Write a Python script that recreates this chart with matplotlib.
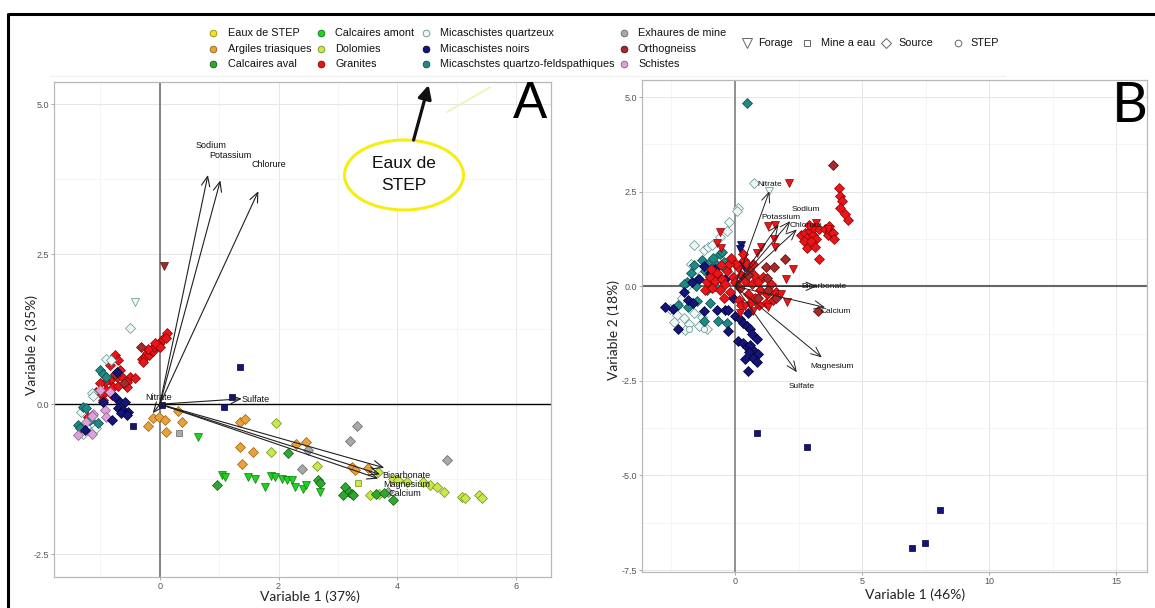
import matplotlib
matplotlib.use('Agg')
import matplotlib.pyplot as plt
from matplotlib.patches import Ellipse
from matplotlib.ticker import MultipleLocator

plt.rcParams['font.family'] = ['Liberation Sans', 'DejaVu Sans']

W, H = 1155, 608

# ---------------- legend / groups ----------------
group_names = ['Eaux de STEP', 'Argiles triasiques', 'Calcaires aval',
               'Calcaires amont', 'Dolomies', 'Granites',
               'Micaschistes quartzeux', 'Micaschistes noirs', 'Micaschstes quartzo-feldspathiques',
               'Exhaures de mine', 'Orthogneiss', 'Schistes']
group_fill = ['#f2e32a', '#e9a23b', '#2fa82f',
              '#1fd41f', '#c8e84c', '#e8161b',
              '#eef8f6', '#14147a', '#1f8a85',
              '#a8a8a8', '#a52a2a', '#dba3d9']
group_edge = ['#9a8a00', '#9a6010', '#145a14',
              '#0a7a0a', '#6f8f18', '#8a0000',
              '#5f8f8c', '#000030', '#0a4a48',
              '#666666', '#5a0a0a', '#8a5a8a']
shape_names = ['Forage', 'Mine a eau', 'Source', 'STEP']
shape_markers = ['v', 's', 'D', 'o']

# ---------------- Panel A data ----------------
a_granites_src_x = [-0.30, -0.25, -0.22, -0.18, -0.15, -0.12, -0.10, -0.05, -0.02, 0.02, 0.05, 0.08, 0.12,
                    -0.28, -0.20, 0.00, -0.08, 0.10,
                    -0.76, -0.70, -0.84, -0.67, -0.73, -0.62, -0.51, -0.42, -0.56, -0.84, -0.93, -1.01,
                    -0.79, -0.70, -0.90, -1.07, -0.98, -0.81, -0.96, -0.56, -1.21]
a_granites_src_y = [0.75, 0.78, 0.85, 0.82, 0.90, 0.88, 0.95, 0.98, 1.00, 1.05, 1.08, 1.12, 1.18,
                    0.70, 0.92, 0.95, 1.02, 1.10,
                    0.82, 0.73, 0.65, 0.57, 0.46, 0.43, 0.46, 0.44, 0.37, 0.40, 0.37, 0.35,
                    0.29, 0.30, 0.23, 0.21, 0.15, 0.15, 0.07, 0.29, -0.21]
a_ortho_src_x = [-0.32, -0.60, -0.75]
a_ortho_src_y = [0.95, 0.35, 0.50]
a_ortho_for_x = [0.07]
a_ortho_for_y = [2.30]
a_micaq_src_x = [-0.51, -0.90, -0.82, -1.15, -1.12, -1.32, -1.24, -1.15, -1.07, -1.29]
a_micaq_src_y = [1.27, 0.75, 0.73, 0.18, 0.13, -0.13, -0.38, -0.46, -0.40, -0.49]
a_micaq_for_x = [-0.42]
a_micaq_for_y = [1.70]
a_micaqf_src_x = [-1.01, -0.96, -1.29, -1.24, -1.38, -1.04, -1.18, -1.35, -0.90]
a_micaqf_src_y = [0.57, 0.51, -0.04, -0.07, -0.35, -0.32, -0.27, -0.40, 0.45]
a_schistes_src_x = [-0.93, -0.90, -1.12, -1.15, -1.38, -1.15, -0.84, -1.01, -1.25]
a_schistes_src_y = [-0.10, -0.21, -0.16, -0.20, -0.52, -0.49, 0.21, 0.23, -0.30]
a_mican_src_x = [-0.73, -0.67, -0.59, -0.70, -0.62, -0.53, -0.65, -0.56, -0.81, -0.76, -0.96, -1.26]
a_mican_src_y = [0.53, 0.04, 0.04, -0.07, -0.10, -0.13, -0.15, -0.18, -0.27, 0.12, 0.04, -0.43]
a_mican_mine_x = [-0.45, 1.35, 1.21, 1.08, 0.03]
a_mican_mine_y = [-0.37, 0.62, 0.12, -0.05, -0.02]
a_argiles_src_x = [-0.20, -0.11, -0.02, 0.08, 0.10, 0.30, 0.37, 1.35, 1.43, 1.35, 1.57, 1.38,
                   2.30, 2.47, 3.23, 3.29, 3.51]
a_argiles_src_y = [-0.36, -0.23, -0.22, -0.27, -0.46, -0.12, -0.30, -0.29, -0.24, -0.71, -0.79, -0.99,
                   -0.66, -0.63, -1.04, -1.10, -1.07]
a_exh_mine_x = [0.32]
a_exh_mine_y = [-0.48]
a_exh_src_x = [3.32, 3.20, 2.50, 2.39, 4.83, 3.85]
a_exh_src_y = [-0.37, -0.61, -0.76, -1.08, -0.93, -1.46]
a_dolo_src_x = [1.96, 1.88, 2.64, 3.68, 3.93, 4.02, 4.16, 4.44, 4.55, 4.67, 4.78, 5.09, 5.14, 5.37, 5.42,
                3.54, 3.70]
a_dolo_src_y = [-0.31, -0.79, -1.03, -1.13, -1.24, -1.27, -1.29, -1.29, -1.35, -1.38, -1.46, -1.54, -1.57,
                -1.52, -1.57, -1.52, -1.50]
a_dolo_mine_x = [3.34]
a_dolo_mine_y = [-1.32]
a_camont_for_x = [0.65, 1.04, 1.10, 1.49, 1.60, 1.77, 1.88, 1.94, 2.05, 2.14, 2.22, 2.28, 2.42, 2.47, 2.70]
a_camont_for_y = [-0.54, -1.18, -1.21, -1.21, -1.24, -1.38, -1.20, -1.22, -1.24, -1.27, -1.26, -1.38,
                  -1.41, -1.35, -1.46]
a_caval_src_x = [0.96, 2.16, 2.67, 2.70, 3.12, 3.18, 3.23, 3.26, 3.09, 3.65, 3.77, 3.93]
a_caval_src_y = [-1.34, -0.82, -1.27, -1.32, -1.38, -1.46, -1.49, -1.52, -1.52, -1.49, -1.48, -1.60]

a_var_names = ['Sodium', 'Potassium', 'Chlorure', 'Nitrate', 'Sulfate', 'Bicarbonate', 'Magnesium', 'Calcium']
a_var_x = [0.81, 1.02, 1.66, -0.12, 1.38, 3.78, 3.71, 3.68]
a_var_y = [3.82, 3.73, 3.55, -0.15, 0.09, -1.06, -1.17, -1.24]
a_lab_x = [0.86, 1.18, 1.84, -0.02, 1.62, 4.16, 4.16, 4.13]
a_lab_y = [4.31, 4.15, 4.00, 0.12, 0.08, -1.18, -1.34, -1.49]

# ---------------- Panel B data ----------------
b_granites_src_x = [4.09, 4.13, 4.20, 4.13, 4.33, 4.46,
                    2.60, 2.75, 2.85, 2.95, 3.05, 3.10, 3.20, 3.30, 2.70, 3.00, 3.55, 3.65, 3.75, 3.85,
                    3.70, 3.90, 2.82, 3.32, 2.90, 3.15,
                    -1.20, -1.10, -1.00, -0.90, -0.80, -0.70, -0.60, -0.50, -0.40, -0.30, -0.20, -0.10,
                    0.00, 0.10, 0.20, 0.25, 0.35, 0.40, 0.50, 0.55, 0.65, 0.75, 0.80, 0.90, 1.00, 1.10,
                    1.25, 1.40, 1.50, 1.60, -0.45, 0.15, 0.60, -0.95, 0.30, 0.05, -0.25, 0.45, 1.20,
                    0.95, -0.55, 0.70, -0.15, 0.25]
b_granites_src_y = [2.60, 2.38, 2.25, 2.07, 1.90, 1.74,
                    1.35, 1.40, 1.30, 1.45, 1.35, 1.55, 1.25, 1.50, 1.20, 1.20, 1.50, 1.35, 1.45, 1.40,
                    1.60, 1.25, 1.00, 0.73, 1.62, 1.05,
                    -0.10, 0.10, 0.25, -0.05, 0.15, 0.35, -0.10, 0.20, 0.05, 0.40, -0.15, 0.25,
                    0.10, 0.50, -0.05, 0.30, 0.70, 0.15, -0.20, 0.45, 0.05, 0.30, -0.30, 0.10, -0.10, 0.25,
                    -0.20, 0.05, -0.35, -0.15, -0.30, -0.35, -0.45, 0.45, 0.85, 0.60, 0.60, 0.60, -0.45,
                    -0.50, 0.55, 0.60, 0.75, -0.50]
b_granites_for_x = [2.14, -0.61, -0.71, -0.55, 1.28, 1.58, 1.52, 1.01, 1.58, 0.88, 2.27, 2.00, 3.67, 3.19,
                    2.03, 0.40, 1.80, 1.30, 0.70, 0.20]
b_granites_for_y = [2.74, 1.43, 1.15, 1.01, 1.59, 1.63, 1.24, 1.04, 1.04, 0.88, 0.45, 0.20, 1.50, 1.67,
                    -0.41, -0.52, -0.20, -0.55, -0.65, -0.70]
b_ortho_src_x = [3.87, 1.97, 1.22, 1.54, 1.25, 3.28, 1.30, 1.60, 0.90, 0.50]
b_ortho_src_y = [3.21, 0.73, 0.52, 0.50, 0.23, -0.65, -0.10, -0.30, -0.30, 0.30]
b_mican_src_x = [-2.76, -2.43, -2.23, -1.84, -1.64, -1.24, -0.72, -0.39, -0.26, -0.26, 0.00, 0.20, 0.33,
                 0.46, 0.59, 0.66, 0.85, 0.13, 0.30, 0.45, 0.60, 0.75, 0.55, 0.90, 0.70, 0.85, 0.39, 0.52,
                 -1.24, -1.00, -0.80, -0.55, -1.40, -0.39, -1.70, 0.20, -0.10, 0.50, -2.00]
b_mican_src_y = [-0.54, -0.59, -1.12, -0.36, -0.43, -0.65, -0.62, -0.62, -0.62, -1.17, -0.78, -0.87, -0.96,
                 -1.04, -1.13, -1.26, -1.39, -1.44, -1.50, -1.60, -1.55, -1.70, -1.75, -1.80, -1.90, -2.00,
                 -1.92, -2.23, 0.53, 0.35, 0.45, 0.20, 0.20, 0.18, 0.10, 0.55, -0.30, -0.70, -0.15]
b_mican_for_x = [0.22, 0.20, 0.35]
b_mican_for_y = [1.10, 0.99, 0.50]
b_mican_mine_x = [0.85, 2.83, 8.05, 7.46, 6.94]
b_mican_mine_y = [-3.88, -4.24, -5.91, -6.79, -6.92]
b_micaqf_src_x = [0.47, -1.90, -1.75, -1.60, -1.45, -1.30, -1.20, -1.05, -0.95, -0.85, -0.70, -0.60, -0.45,
                  -0.35, -1.55, -1.10, -0.80, -2.23, -1.84, -1.24, -0.66, -0.33, -2.00, -1.50, -0.50, -1.00]
b_micaqf_src_y = [4.84, 0.10, 0.35, 0.55, 0.20, 0.70, 0.40, 0.60, 0.15, 0.75, 0.55, 0.85, 0.65,
                  0.45, 0.00, -0.10, 0.00, -0.50, -0.56, -0.91, -0.91, -0.97, 0.05, -0.40, 0.90, -0.45]
b_micaq_src_x = [0.75, 0.13, 0.07, -0.22, -0.33, -1.60, -1.24, -1.05, -0.92, -1.75, -1.50, -1.90, -2.10,
                 -2.56, -2.30, -2.00, -1.80, -1.60, -1.40, -1.12, -1.95, -1.70, -2.40, -1.30, -0.60]
b_micaq_src_y = [2.73, 2.07, 2.00, 1.70, 1.46, 1.10, 0.97, 1.04, 1.10, 0.60, 0.45, 0.00, -0.30,
                 -0.60, -0.75, -0.85, -1.00, -0.70, -1.05, -1.13, -1.15, -0.45, -0.95, -0.80, 1.30]
b_micaq_for_x = [1.35]
b_micaq_for_y = [2.51]
b_micaq_step_x = [-1.83, -1.24]
b_micaq_step_y = [-1.13, -1.13]

b_var_names = ['Nitrate', 'Potassium', 'Sodium', 'Chlorure', 'Bicarbonate', 'Calcium', 'Magnesium', 'Sulfate']
b_var_x = [1.35, 1.71, 2.17, 2.43, 3.22, 3.54, 3.41, 2.43]
b_var_y = [2.51, 1.63, 1.72, 1.50, 0.00, -0.56, -1.88, -2.27]
b_lab_x = [1.38, 1.80, 2.78, 2.78, 3.48, 3.98, 3.81, 2.63]
b_lab_y = [2.68, 1.83, 2.04, 1.60, 0.00, -0.67, -2.12, -2.64]

# ---------------- series tables ----------------
series_a = [
    (a_granites_src_x, a_granites_src_y, 5, 'D'),
    (a_ortho_src_x, a_ortho_src_y, 10, 'D'),
    (a_ortho_for_x, a_ortho_for_y, 10, 'v'),
    (a_micaq_src_x, a_micaq_src_y, 6, 'D'),
    (a_micaq_for_x, a_micaq_for_y, 6, 'v'),
    (a_micaqf_src_x, a_micaqf_src_y, 8, 'D'),
    (a_schistes_src_x, a_schistes_src_y, 11, 'D'),
    (a_mican_src_x, a_mican_src_y, 7, 'D'),
    (a_mican_mine_x, a_mican_mine_y, 7, 's'),
    (a_argiles_src_x, a_argiles_src_y, 1, 'D'),
    (a_exh_mine_x, a_exh_mine_y, 9, 's'),
    (a_exh_src_x, a_exh_src_y, 9, 'D'),
    (a_dolo_src_x, a_dolo_src_y, 4, 'D'),
    (a_dolo_mine_x, a_dolo_mine_y, 4, 's'),
    (a_camont_for_x, a_camont_for_y, 3, 'v'),
    (a_caval_src_x, a_caval_src_y, 2, 'D'),
]
series_b = [
    (b_micaq_src_x, b_micaq_src_y, 6, 'D'),
    (b_micaq_for_x, b_micaq_for_y, 6, 'v'),
    (b_micaq_step_x, b_micaq_step_y, 6, 'o'),
    (b_micaqf_src_x, b_micaqf_src_y, 8, 'D'),
    (b_mican_src_x, b_mican_src_y, 7, 'D'),
    (b_mican_for_x, b_mican_for_y, 7, 'v'),
    (b_mican_mine_x, b_mican_mine_y, 7, 's'),
    (b_granites_src_x, b_granites_src_y, 5, 'D'),
    (b_granites_for_x, b_granites_for_y, 5, 'v'),
    (b_ortho_src_x, b_ortho_src_y, 10, 'D'),
]
marker_size = {'D': 4.8, 'v': 6.2, 's': 4.3, 'o': 4.5}

fig = plt.figure(figsize=(W / 100, H / 100), dpi=100)


def px_axes(l, t, r, b):
    return fig.add_axes([l / W, 1 - b / H, (r - l) / W, (b - t) / H])


def style_axes(ax, xmaj, xmin_, ymaj, ymin_):
    ax.xaxis.set_major_locator(MultipleLocator(xmaj))
    ax.xaxis.set_minor_locator(MultipleLocator(xmin_))
    ax.yaxis.set_major_locator(MultipleLocator(ymaj))
    ax.yaxis.set_minor_locator(MultipleLocator(ymin_))
    ax.grid(which='major', color='#e6e6e6', lw=0.7, zorder=0)
    ax.grid(which='minor', color='#f2f2f2', lw=0.5, zorder=0)
    ax.set_axisbelow(True)
    for s in ax.spines.values():
        s.set_color('#b8b8b8')
        s.set_linewidth(0.9)
    ax.tick_params(which='major', length=2, width=0.6, color='#999999', labelsize=6.5,
                   labelcolor='#555555', pad=1.5)
    ax.tick_params(which='minor', length=0)


def draw_points(ax, series):
    for xs, ys, gi, mk in series:
        ax.plot(xs, ys, linestyle='none', marker=mk, ms=marker_size[mk],
                mfc=group_fill[gi], mec=group_edge[gi], mew=0.5, zorder=3)


# ---------------- Panel A ----------------
axA = px_axes(53.6, 82, 551, 577)
axA.set_xlim(-1.79, 6.59)
axA.set_ylim(-2.88, 5.37)
style_axes(axA, 2, 1, 2.5, 1.25)
axA.set_yticks([-2.5, 0.0, 2.5, 5.0])
axA.set_yticklabels(['-2.5', '0.0', '2.5', '5.0'])
axA.axvline(0, color='#7a7a7a', lw=1.3, zorder=1)
axA.axhline(0, color='black', lw=1.0, zorder=1)
draw_points(axA, series_a)
for n, vx, vy, lx, ly in zip(a_var_names, a_var_x, a_var_y, a_lab_x, a_lab_y):
    axA.annotate('', xy=(vx, vy), xytext=(0, 0),
                 arrowprops=dict(arrowstyle='->,head_length=0.7,head_width=0.3', lw=0.8,
                                 color='#202020', shrinkA=0, shrinkB=0), zorder=4)
    axA.text(lx, ly, n, fontsize=6.5, ha='center', va='center', color='#111111', zorder=5)
axA.plot([4.84, 5.56], [4.87, 5.28], color='#eef2b0', lw=1.2, zorder=2)

# ---------------- Panel B ----------------
axB = px_axes(642, 80, 1147, 572)
axB.set_xlim(-3.66, 16.2)
axB.set_ylim(-7.55, 5.45)
style_axes(axB, 5, 2.5, 2.5, 1.25)
axB.set_yticks([-7.5, -5.0, -2.5, 0.0, 2.5, 5.0])
axB.set_yticklabels(['-7.5', '-5.0', '-2.5', '0.0', '2.5', '5.0'])
axB.axvline(0, color='#8a8a8a', lw=1.3, zorder=1)
axB.axhline(0, color='#666666', lw=1.5, zorder=1)
draw_points(axB, series_b)
for n, vx, vy, lx, ly in zip(b_var_names, b_var_x, b_var_y, b_lab_x, b_lab_y):
    axB.annotate('', xy=(vx, vy), xytext=(0, 0),
                 arrowprops=dict(arrowstyle='->,head_length=0.7,head_width=0.3', lw=0.7,
                                 color='#202020', shrinkA=0, shrinkB=0), zorder=4)
    axB.text(lx, ly, n, fontsize=6, ha='center', va='center', color='#111111', zorder=5)

# ---------------- overlay (frame, legend, labels) ----------------
ov = fig.add_axes([0, 0, 1, 1], zorder=10)
ov.set_xlim(0, W)
ov.set_ylim(H, 0)
ov.axis('off')
ov.patch.set_alpha(0)

ov.plot([8, W], [14, 14], color='black', lw=2.2, solid_capstyle='butt')
ov.plot([8, 8], [13, H], color='black', lw=2.2, solid_capstyle='butt')
ov.plot([50, 1005], [76, 76], color='#f0f0f0', lw=0.8)

leg_mx = [213, 321, 426, 624]
leg_tx = [228, 335, 440, 638]
leg_ry = [33, 49, 64]
for gi, name in enumerate(group_names):
    col, row = gi // 3, gi % 3
    ov.plot([leg_mx[col]], [leg_ry[row]], marker='o', ms=4.8, mfc=group_fill[gi], mec=group_edge[gi],
            mew=0.6, linestyle='none')
    ov.text(leg_tx[col], leg_ry[row], name, fontsize=7.8, ha='left', va='center', color='#111111')

shape_mx = [747, 807, 886, 958]
shape_tx = [758, 821, 898, 970]
for mk, name, mx, tx in zip(shape_markers, shape_names, shape_mx, shape_tx):
    ov.plot([mx], [43], marker=mk, ms=marker_size[mk] + 0.3, mfc='none', mec='#666666', mew=0.7,
            linestyle='none')
    ov.text(tx, 43, name, fontsize=7.8, ha='left', va='center', color='#111111')

# axis titles
ov.text(310, 597, 'Variable 1 (37%)', fontsize=10, ha='center', va='center', color='#222222', family='Lato')
ov.text(32, 345, 'Variable 2 (35%)', fontsize=10, ha='center', va='center', rotation=90,
        color='#222222', family='Lato')
ov.text(915, 595, 'Variable 1 (46%)', fontsize=10, ha='center', va='center', color='#222222', family='Lato')
ov.text(614, 330, 'Variable 2 (18%)', fontsize=10, ha='center', va='center', rotation=90,
        color='#222222', family='Lato')

# panel letters
ov.text(530, 104, 'A', fontsize=37, ha='center', va='center', color='black')
ov.text(1130, 106, 'B', fontsize=40, ha='center', va='center', color='black', family='Lato')

# Eaux de STEP callout
ov.add_patch(Ellipse((404, 175), 119, 70, facecolor='white', edgecolor='#f5ee10', lw=2.2, zorder=11))
ov.text(404, 163, 'Eaux de', fontsize=12.5, ha='center', va='center', color='#111111', zorder=12)
ov.text(404, 186, 'STEP', fontsize=12.5, ha='center', va='center', color='#111111', zorder=12)
ov.annotate('', xy=(428.6, 85), xytext=(413.6, 140),
            arrowprops=dict(arrowstyle='-|>,head_length=0.8,head_width=0.4', lw=2.3, color='#111111',
                            shrinkA=0, shrinkB=0), zorder=12)

fig.savefig('out.png', dpi=100)
